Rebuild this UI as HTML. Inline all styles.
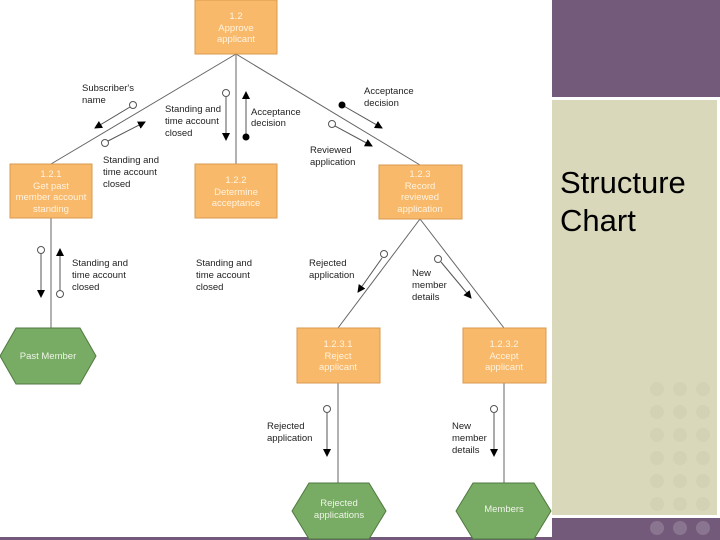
<!DOCTYPE html>
<html><head><meta charset="utf-8"><style>
html,body{margin:0;padding:0;background:#fff;}
svg{display:block;}
text{font-family:"Liberation Sans",sans-serif;}
.l{font-size:9.5px;fill:#222;}
.b{font-size:9.5px;fill:#fff3e0;text-anchor:middle;}
.h{font-size:9.5px;fill:#eef5e8;text-anchor:middle;}
</style></head><body>
<svg width="720" height="540" viewBox="0 0 720 540" xmlns="http://www.w3.org/2000/svg">
<defs>
<marker id="a" markerWidth="8" markerHeight="8" refX="7" refY="4" orient="auto" markerUnits="userSpaceOnUse">
<path d="M0,0 L8,4 L0,8 Z" fill="#000"/></marker>
</defs>
<rect x="552" y="0" width="168" height="97" fill="#735a7a"/>
<rect x="552" y="100" width="165" height="415" fill="#d9d8bb"/>
<rect x="552" y="518" width="168" height="22" fill="#735a7a"/>
<rect x="0" y="537" width="552" height="3" fill="#735a7a"/>
<g fill="#d0cfb0" opacity="0.6">
<circle cx="657" cy="389" r="7"/><circle cx="680" cy="389" r="7"/><circle cx="703" cy="389" r="7"/>
<circle cx="657" cy="412" r="7"/><circle cx="680" cy="412" r="7"/><circle cx="703" cy="412" r="7"/>
<circle cx="657" cy="435" r="7"/><circle cx="680" cy="435" r="7"/><circle cx="703" cy="435" r="7"/>
<circle cx="657" cy="458" r="7"/><circle cx="680" cy="458" r="7"/><circle cx="703" cy="458" r="7"/>
<circle cx="657" cy="481" r="7"/><circle cx="680" cy="481" r="7"/><circle cx="703" cy="481" r="7"/>
<circle cx="657" cy="504" r="7"/><circle cx="680" cy="504" r="7"/><circle cx="703" cy="504" r="7"/>
</g>
<g fill="#8a7590"><circle cx="657" cy="528" r="7"/><circle cx="680" cy="528" r="7"/><circle cx="703" cy="528" r="7"/></g>
<text x="560" y="193" font-size="31" fill="#000">Structure</text>
<text x="560" y="231" font-size="31" fill="#000">Chart</text>

<g stroke="#666" stroke-width="1" fill="none">
<line x1="236" y1="54" x2="51" y2="164"/>
<line x1="236" y1="54" x2="236" y2="164"/>
<line x1="236" y1="54" x2="420" y2="165"/>
<line x1="420" y1="219" x2="338" y2="328"/>
<line x1="420" y1="219" x2="504" y2="328"/>
<line x1="51" y1="218" x2="51" y2="328"/>
<line x1="338" y1="382" x2="338" y2="483"/>
<line x1="504" y1="383" x2="504" y2="483"/>
</g>

<g fill="#f9b96a" stroke="#d99a50" stroke-width="1">
<rect x="195" y="0" width="82" height="54"/>
<rect x="10" y="164" width="82" height="54"/>
<rect x="195" y="164" width="82" height="54"/>
<rect x="379" y="165" width="83" height="54"/>
<rect x="297" y="328" width="83" height="55"/>
<rect x="463" y="328" width="83" height="55"/>
</g>
<text class="b" x="236" y="19">1.2</text><text class="b" x="236" y="31">Approve</text><text class="b" x="236" y="42">applicant</text>
<text class="b" x="51" y="177">1.2.1</text><text class="b" x="51" y="189">Get past</text><text class="b" x="51" y="200">member account</text><text class="b" x="51" y="212">standing</text>
<text class="b" x="236" y="183">1.2.2</text><text class="b" x="236" y="195">Determine</text><text class="b" x="236" y="206">acceptance</text>
<text class="b" x="420" y="177">1.2.3</text><text class="b" x="420" y="189">Record</text><text class="b" x="420" y="200">reviewed</text><text class="b" x="420" y="212">application</text>
<text class="b" x="338" y="347">1.2.3.1</text><text class="b" x="338" y="359">Reject</text><text class="b" x="338" y="370">applicant</text>
<text class="b" x="504" y="347">1.2.3.2</text><text class="b" x="504" y="359">Accept</text><text class="b" x="504" y="370">applicant</text>

<g fill="#78ab63" stroke="#4f7a40" stroke-width="1">
<polygon points="0,356 16,328 80,328 96,356 80,384 16,384"/>
<polygon points="292,511 309,483 369,483 386,511 369,539 309,539"/>
<polygon points="456,511 473,483 534,483 551,511 534,539 473,539"/>
</g>
<text class="h" x="48" y="359">Past Member</text>
<text class="h" x="339" y="506">Rejected</text><text class="h" x="339" y="518">applications</text>
<text class="h" x="504" y="512">Members</text>

<g stroke="#555" stroke-width="1" fill="none">
<line x1="130" y1="107" x2="95" y2="128" marker-end="url(#a)"/>
<line x1="108" y1="141" x2="145" y2="122" marker-end="url(#a)"/>
<line x1="226" y1="97" x2="226" y2="140" marker-end="url(#a)"/>
<line x1="246" y1="135" x2="246" y2="92" marker-end="url(#a)"/>
<line x1="342" y1="105" x2="382" y2="128" marker-end="url(#a)"/>
<line x1="335" y1="126" x2="372" y2="146" marker-end="url(#a)"/>
<line x1="41" y1="254" x2="41" y2="297" marker-end="url(#a)"/>
<line x1="60" y1="290" x2="60" y2="249" marker-end="url(#a)"/>
<line x1="382" y1="258" x2="358" y2="292" marker-end="url(#a)"/>
<line x1="441" y1="262" x2="471" y2="298" marker-end="url(#a)"/>
<line x1="327" y1="413" x2="327" y2="456" marker-end="url(#a)"/>
<line x1="494" y1="413" x2="494" y2="456" marker-end="url(#a)"/>
</g>
<g fill="#fff" stroke="#555" stroke-width="1">
<circle cx="133" cy="105" r="3.5"/><circle cx="105" cy="143" r="3.5"/><circle cx="226" cy="93" r="3.5"/>
<circle cx="332" cy="124" r="3.5"/><circle cx="41" cy="250" r="3.5"/><circle cx="60" cy="294" r="3.5"/>
<circle cx="384" cy="254" r="3.5"/><circle cx="438" cy="259" r="3.5"/><circle cx="327" cy="409" r="3.5"/><circle cx="494" cy="409" r="3.5"/>
</g>
<g fill="#000"><circle cx="246" cy="137" r="3.5"/><circle cx="342" cy="105" r="3.5"/></g>

<text class="l" x="82" y="91">Subscriber's</text><text class="l" x="82" y="103">name</text>
<text class="l" x="165" y="112">Standing and</text><text class="l" x="165" y="124">time account</text><text class="l" x="165" y="136">closed</text>
<text class="l" x="251" y="115">Acceptance</text><text class="l" x="251" y="126">decision</text>
<text class="l" x="364" y="94">Acceptance</text><text class="l" x="364" y="106">decision</text>
<text class="l" x="310" y="153">Reviewed</text><text class="l" x="310" y="165">application</text>
<text class="l" x="103" y="163">Standing and</text><text class="l" x="103" y="175">time account</text><text class="l" x="103" y="187">closed</text>
<text class="l" x="72" y="266">Standing and</text><text class="l" x="72" y="278">time account</text><text class="l" x="72" y="290">closed</text>
<text class="l" x="196" y="266">Standing and</text><text class="l" x="196" y="278">time account</text><text class="l" x="196" y="290">closed</text>
<text class="l" x="309" y="266">Rejected</text><text class="l" x="309" y="278">application</text>
<text class="l" x="412" y="276">New</text><text class="l" x="412" y="288">member</text><text class="l" x="412" y="300">details</text>
<text class="l" x="267" y="429">Rejected</text><text class="l" x="267" y="441">application</text>
<text class="l" x="452" y="429">New</text><text class="l" x="452" y="441">member</text><text class="l" x="452" y="453">details</text>
</svg>
</body></html>
